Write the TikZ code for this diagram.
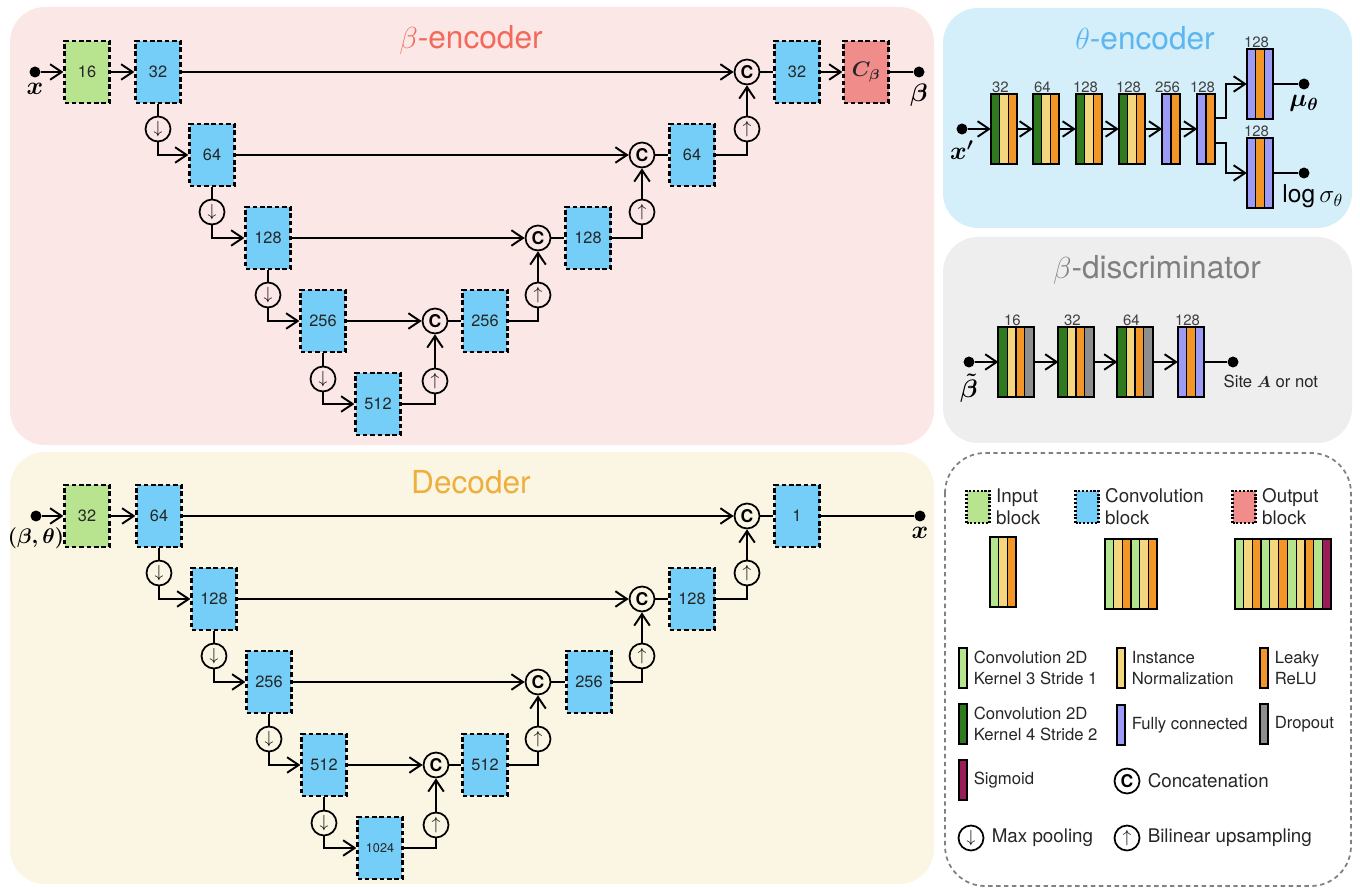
\documentclass[tikz,border=0pt]{standalone}
\usepackage{fontspec}
\setmainfont{TeX Gyre Heros}
\usepackage{amsmath}
\usepackage{tikz}
\usetikzlibrary{arrows.meta,positioning}
\definecolor{encbg}{HTML}{FCE7E7}
\definecolor{thetabg}{HTML}{D4EEFA}
\definecolor{discbg}{HTML}{EEEEEE}
\definecolor{decbg}{HTML}{FBF5E4}
\definecolor{convblue}{HTML}{74CEF7}
\definecolor{ingreen}{HTML}{B8E38F}
\definecolor{outred}{HTML}{F08D8A}
\definecolor{lgreen}{HTML}{B5E48E}
\definecolor{dgreen}{HTML}{2F7A1F}
\definecolor{inorm}{HTML}{F4D67E}
\definecolor{lrelu}{HTML}{F29727}
\definecolor{fcpurple}{HTML}{9C9CF7}
\definecolor{dropgray}{HTML}{8E8E8E}
\definecolor{sigm}{HTML}{9A1C59}
\definecolor{enctitle}{HTML}{F26A5B}
\definecolor{thetatitle}{HTML}{5DB6EF}
\definecolor{disctitle}{HTML}{808080}
\definecolor{dectitle}{HTML}{EEB03C}
\tikzset{
    block/.style={draw=black, line width=1.3pt, dash pattern=on 2.6pt off 1.6pt,
        minimum width=0.9cm, minimum height=1.24cm, inner sep=0pt,
        font=\fontsize{9.3}{11}\selectfont, text=black!85},
    inblock/.style={block, fill=ingreen},
    convblock/.style={block, fill=convblue},
    outblock/.style={block, fill=outred},
    op/.style={circle, draw=black, line width=1pt, minimum size=0.5cm, inner sep=0pt},
    concat/.style={op, font=\fontsize{10}{10}\selectfont\bfseries},
    pool/.style={op, font=\fontsize{10}{10}\selectfont},
    unpool/.style={op, font=\fontsize{10}{10}\selectfont},
    dot/.style={circle, fill=black, inner sep=0pt, minimum size=0.22cm},
    flow/.style={-{Straight Barb[length=2.3mm,width=3.1mm]}, line width=1.1pt},
    link/.style={line width=1.1pt},
    title/.style={font=\fontsize{18}{22}\selectfont},
    mathlbl/.style={font=\fontsize{14}{16}\selectfont\boldmath, inner sep=0.5pt, yshift=-2.5pt},
    stack/.style={minimum height=1.4cm, inner sep=0pt, outer sep=0pt},
    numlbl/.style={font=\fontsize{8.5}{9}\selectfont, text=black!75, inner sep=0.3pt, xshift=-2pt},
    legtext/.style={font=\fontsize{9.5}{11.5}\selectfont, align=left, inner sep=0pt, text=black!85},
    legbig/.style={legtext, font=\fontsize{10.7}{12.5}\selectfont},
    swatch/.style={draw=black, line width=1pt, minimum width=0.17cm, minimum height=0.8cm, inner sep=0pt},
    mini/.style={draw=black, densely dotted, line width=1.2pt, minimum width=0.46cm,
        minimum height=0.64cm, inner sep=0pt}
}
% stack of layers: [options] name, position, number of stripes, colours
\newcommand{\layers}[5][]{%
    \node[stack, minimum width=#4*0.176cm, #1] (#2) at #3 {};
    \foreach \lc [count=\li from 0] in {#5}
        \filldraw[fill=\lc, draw=black, line width=0.6pt]
            ([xshift={\li*0.176cm}]#2.south west) rectangle ++(0.176cm,1.4cm);
    \draw[line width=1.1pt] (#2.south west) rectangle (#2.north east);
}

\begin{document}
\begin{tikzpicture}[x=0.02cm, y=-0.02cm]
\useasboundingbox (0,0) rectangle (1360,888);

% panels
\fill[encbg, rounded corners=0.7cm] (10,7) rectangle (934,445);
\fill[decbg, rounded corners=0.7cm] (10,452) rectangle (934,884);
\fill[thetabg, rounded corners=0.7cm] (943,8) rectangle (1352,228);
\fill[discbg, rounded corners=0.7cm] (943,237) rectangle (1352,443);
\draw[black!50, dash pattern=on 2.5pt off 2pt, line width=1pt, rounded corners=0.8cm]
    (945,453) rectangle (1351,886);

% beta-encoder
\node[title, text=enctitle] (etitle) at (471,40) {$\beta$-encoder};
\node[dot, label={[mathlbl]below:$x$}] (ein) at (35,72) {};
\node[inblock] (eib) at (87,72) {16};
\node[convblock] (e1) at (158,72) {32};
\node[convblock] (e2) at (212,155) {64};
\node[convblock] (e3) at (268,238) {128};
\node[convblock] (e4) at (323,321) {256};
\node[convblock] (e5) at (378,404) {512};
\node[pool] (ep1) at (158,129) {$\downarrow$};
\node[pool] (ep2) at (212,212) {$\downarrow$};
\node[pool] (ep3) at (268,295) {$\downarrow$};
\node[pool] (ep4) at (323,379) {$\downarrow$};
\node[concat] (ec4) at (435,321) {C};
\node[concat] (ec3) at (538,238) {C};
\node[concat] (ec2) at (642,155) {C};
\node[concat] (ec1) at (747,72) {C};
\node[unpool] (eu4) at (435,381) {$\uparrow$};
\node[unpool] (eu3) at (538,295) {$\uparrow$};
\node[unpool] (eu2) at (642,212) {$\uparrow$};
\node[unpool] (eu1) at (747,129) {$\uparrow$};
\node[convblock] (er4) at (485,321) {256};
\node[convblock] (er3) at (588,238) {128};
\node[convblock] (er2) at (692,155) {64};
\node[convblock] (er1) at (797,72) {32};
\node[outblock, font=\fontsize{12}{12}\selectfont\boldmath] (eob) at (866,72) {$C_\beta$};
\node[dot, label={[mathlbl]below:$\beta$}] (eout) at (919,72) {};
\draw[flow] (ein) -- (eib);
\draw[flow] (eib) -- (e1);
\draw[link] (e1) -- (ep1);
\draw[flow] (ep1) |- (e2);
\draw[link] (e2) -- (ep2);
\draw[flow] (ep2) |- (e3);
\draw[link] (e3) -- (ep3);
\draw[flow] (ep3) |- (e4);
\draw[link] (e4) -- (ep4);
\draw[flow] (ep4) |- (e5);
\draw[flow] (e1) -- (ec1);
\draw[flow] (e2) -- (ec2);
\draw[flow] (e3) -- (ec3);
\draw[flow] (e4) -- (ec4);
\draw[link] (e5) -| (eu4);
\draw[flow] (eu4) -- (ec4);
\draw[link] (ec4) -- (er4);
\draw[link] (er4) -| (eu3);
\draw[flow] (eu3) -- (ec3);
\draw[link] (ec3) -- (er3);
\draw[link] (er3) -| (eu2);
\draw[flow] (eu2) -- (ec2);
\draw[link] (ec2) -- (er2);
\draw[link] (er2) -| (eu1);
\draw[flow] (eu1) -- (ec1);
\draw[link] (ec1) -- (er1);
\draw[flow] (er1) -- (eob);
\draw[link] (eob) -- (eout);

% decoder
\node[title, text=dectitle] (dtitle) at (471,482) {Decoder};
\node[dot, label={[mathlbl, font=\fontsize{13}{15}\selectfont\boldmath]below:$(\beta,\theta)$}] (din) at (36,516) {};
\node[inblock] (dib) at (87,516) {32};
\node[convblock] (d1) at (159,516) {64};
\node[convblock] (d2) at (214,599) {128};
\node[convblock] (d3) at (269,682) {256};
\node[convblock] (d4) at (324,765) {512};
\node[convblock, font=\fontsize{7.2}{9}\selectfont] (d5) at (380,848) {1024};
\node[pool] (dp1) at (159,573) {$\downarrow$};
\node[pool] (dp2) at (214,656) {$\downarrow$};
\node[pool] (dp3) at (269,739) {$\downarrow$};
\node[pool] (dp4) at (324,823) {$\downarrow$};
\node[concat] (dc4) at (436,765) {C};
\node[concat] (dc3) at (538,682) {C};
\node[concat] (dc2) at (642,599) {C};
\node[concat] (dc1) at (747,516) {C};
\node[unpool] (du4) at (436,825) {$\uparrow$};
\node[unpool] (du3) at (538,739) {$\uparrow$};
\node[unpool] (du2) at (642,656) {$\uparrow$};
\node[unpool] (du1) at (747,573) {$\uparrow$};
\node[convblock] (dr4) at (485,765) {512};
\node[convblock] (dr3) at (589,682) {256};
\node[convblock] (dr2) at (692,599) {128};
\node[convblock] (dr1) at (797,516) {1};
\node[dot, label={[mathlbl]below:$x$}] (dout) at (920,516) {};
\draw[flow] (din) -- (dib);
\draw[flow] (dib) -- (d1);
\draw[link] (d1) -- (dp1);
\draw[flow] (dp1) |- (d2);
\draw[link] (d2) -- (dp2);
\draw[flow] (dp2) |- (d3);
\draw[link] (d3) -- (dp3);
\draw[flow] (dp3) |- (d4);
\draw[link] (d4) -- (dp4);
\draw[flow] (dp4) |- (d5);
\draw[flow] (d1) -- (dc1);
\draw[flow] (d2) -- (dc2);
\draw[flow] (d3) -- (dc3);
\draw[flow] (d4) -- (dc4);
\draw[link] (d5) -| (du4);
\draw[flow] (du4) -- (dc4);
\draw[link] (dc4) -- (dr4);
\draw[link] (dr4) -| (du3);
\draw[flow] (du3) -- (dc3);
\draw[link] (dc3) -- (dr3);
\draw[link] (dr3) -| (du2);
\draw[flow] (du2) -- (dc2);
\draw[link] (dc2) -- (dr2);
\draw[link] (dr2) -| (du1);
\draw[flow] (du1) -- (dc1);
\draw[link] (dc1) -- (dr1);
\draw[link] (dr1) -- (dout);

% theta-encoder
\node[title, text=thetatitle] (ttitle) at (1145,38) {$\theta$-encoder};
\node[dot, label={[mathlbl]below:$x'$}] (tin) at (962,129) {};
\layers[label={[numlbl]north:32}]{t1}{(1004,129)}{3}{dgreen,inorm,lrelu}
\layers[label={[numlbl]north:64}]{t2}{(1046,129)}{3}{dgreen,inorm,lrelu}
\layers[label={[numlbl]north:128}]{t3}{(1089,129)}{3}{dgreen,inorm,lrelu}
\layers[label={[numlbl]north:128}]{t4}{(1132,129)}{3}{dgreen,inorm,lrelu}
\layers[label={[numlbl]north:256}]{t5}{(1171,129)}{2}{fcpurple,lrelu}
\layers[label={[numlbl]north:128}]{t6}{(1206,129)}{2}{fcpurple,lrelu}
\layers[label={[numlbl]north:128}]{t7}{(1260,84)}{3}{fcpurple,lrelu,fcpurple}
\layers[label={[numlbl]north:128}]{t8}{(1260,173)}{3}{fcpurple,lrelu,fcpurple}
\node[dot, label={[mathlbl]below:$\mu_\theta$}] (tmu) at (1304,84) {};
\node[dot, label={[mathlbl, font=\fontsize{14}{16}\selectfont, xshift=5pt]below:$\log\sigma_\theta$}] (tsig) at (1304,173) {};
\draw[flow] (tin) -- (t1);
\draw[flow] (t1) -- (t2);
\draw[flow] (t2) -- (t3);
\draw[flow] (t3) -- (t4);
\draw[flow] (t4) -- (t5);
\draw[flow] (t5) -- (t6);
\draw[flow] ([yshift=6pt]t6.east) -- ++(0.22cm,0pt) |- (t7);
\draw[flow] ([yshift=-8pt]t6.east) -- ++(0.22cm,0pt) |- (t8);
\draw[link] (t7) -- (tmu);
\draw[link] (t8) -- (tsig);

% beta-discriminator
\node[title, text=disctitle] (stitle) at (1157,270) {$\beta$-discriminator};
\node[dot, label={[mathlbl]below:$\tilde{\beta}$}] (sin) at (969,362) {};
\layers[label={[numlbl]north:16}]{s1}{(1016,362)}{4}{dgreen,inorm,lrelu,dropgray}
\layers[label={[numlbl]north:32}]{s2}{(1076,362)}{4}{dgreen,inorm,lrelu,dropgray}
\layers[label={[numlbl]north:64}]{s3}{(1135,362)}{4}{dgreen,inorm,lrelu,dropgray}
\layers[label={[numlbl]north:128}]{s4}{(1191,362)}{3}{fcpurple,lrelu,fcpurple}
\node[dot] (sout) at (1233,362) {};
\node[legtext, anchor=north west] (ssite) at ([xshift=-5.5pt,yshift=-4pt]sout.south)
    {Site \mbox{\boldmath$A$} or not};
\draw[flow] (sin) -- (s1);
\draw[flow] (s1) -- (s2);
\draw[flow] (s2) -- (s3);
\draw[flow] (s3) -- (s4);
\draw[link] (s4) -- (sout);

% legend
\node[mini, fill=ingreen] (kin) at (978,507) {};
\node[legbig, right=3pt of kin] (kintxt) {Input\\block};
\node[mini, fill=convblue] (kconv) at (1087,507) {};
\node[legbig, right=3pt of kconv] (kconvtxt) {Convolution\\block};
\node[mini, fill=outred] (kout) at (1244,507) {};
\node[legbig, right=3pt of kout] (kouttxt) {Output\\block};
\layers{kin3}{(1003,572)}{3}{lgreen,inorm,lrelu}
\layers{kconv6}{(1131,574)}{6}{lgreen,inorm,lrelu,lgreen,inorm,lrelu}
\layers{kout11}{(1283,574)}{11}{lgreen,inorm,lrelu,lgreen,inorm,lrelu,lgreen,inorm,lrelu,lgreen,sigm}
\node[swatch, fill=lgreen] (sw1) at (963,668) {};
\node[legtext, right=3pt of sw1] (sw1txt) {Convolution 2D\\Kernel 3 Stride 1};
\node[swatch, fill=inorm] (sw2) at (1121,668) {};
\node[legtext, right=3pt of sw2] (sw2txt) {Instance\\Normalization};
\node[swatch, fill=lrelu] (sw3) at (1264,668) {};
\node[legtext, right=3pt of sw3] (sw3txt) {Leaky\\ReLU};
\node[swatch, fill=dgreen] (sw4) at (963,724) {};
\node[legtext, right=3pt of sw4] (sw4txt) {Convolution 2D\\Kernel 4 Stride 2};
\node[swatch, fill=fcpurple] (sw5) at (1121,725) {};
\node[legtext, right=3pt of sw5] (sw5txt) {Fully connected};
\node[swatch, fill=dropgray] (sw6) at (1264,724) {};
\node[legtext, right=3pt of sw6] (sw6txt) {Dropout};
\node[swatch, fill=sigm] (sw7) at (963,780) {};
\node[legtext, right=3pt of sw7] (sw7txt) {Sigmoid};
\node[concat] (kc) at (1127,781) {C};
\node[legbig, right=4pt of kc] (kctxt) {Concatenation};
\node[pool] (kp) at (971,838) {$\downarrow$};
\node[legbig, right=4pt of kp] (kptxt) {Max pooling};
\node[unpool] (ku) at (1127,838) {$\uparrow$};
\node[legbig, right=4pt of ku] (kutxt) {Bilinear upsampling};
\end{tikzpicture}
\end{document}
